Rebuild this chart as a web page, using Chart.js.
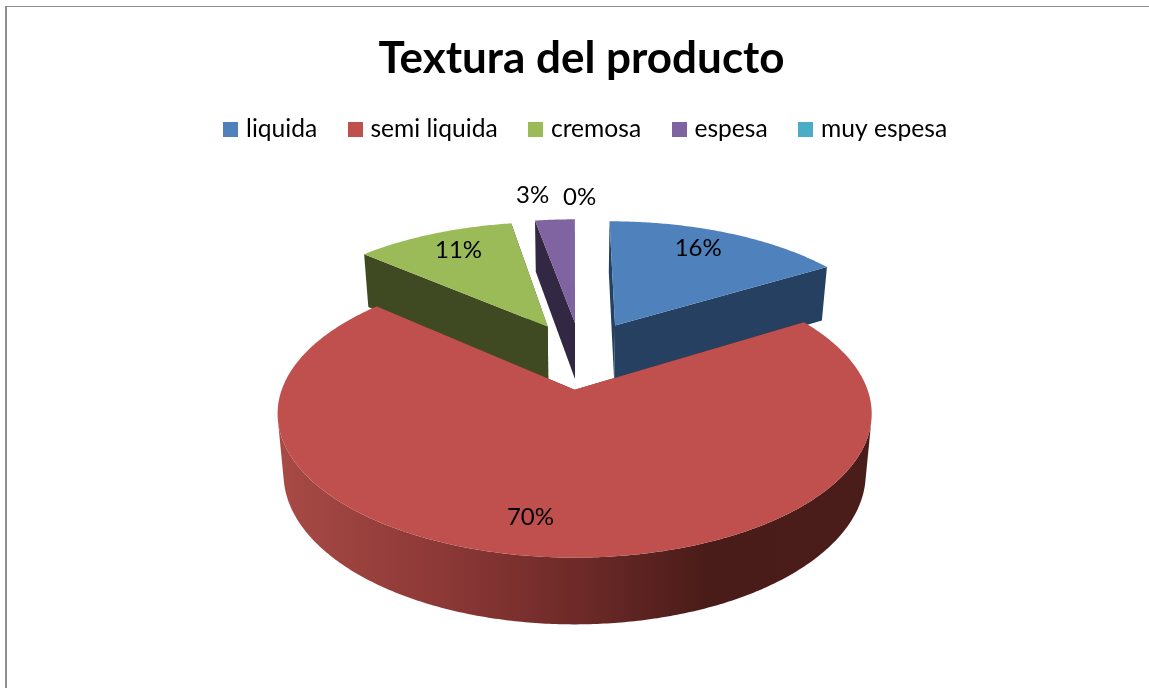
<!DOCTYPE html>
<html>
<head>
<meta charset="utf-8">
<style>
html,body{margin:0;padding:0;background:#fff;overflow:hidden}
#wrap{position:absolute;left:0;top:0;width:1149px;height:688px}
#frame{position:absolute;left:5px;top:6px;right:0;bottom:0;border-left:2px solid #8f8f8f;border-top:1px solid #8f8f8f;pointer-events:none}
</style>
<script src="https://cdn.jsdelivr.net/npm/chart.js@4/dist/chart.umd.min.js"></script>
</head>
<body>
<div id="wrap"><canvas id="c" width="1149" height="688"></canvas><div id="frame"></div></div>
<script>
const chartTitle = 'Textura del producto';
const categories = ['liquida', 'semi liquida', 'cremosa', 'espesa', 'muy espesa'];
const percentages = [16.2, 70.3, 10.8, 2.7, 0];
const explodePercent = [26, 27, 25, 25, 25];
const colors = ['#4f81bd', '#c0504d', '#9bbb59', '#8064a2', '#4bacc6'];
const wallColors = ['#254061', '#c0504d', '#3f4a22', '#332843', '#205867'];

const FONT = 'Lato, Carlito, Calibri, sans-serif';
// Camera for the tilted pie: a unit disc on the ground plane projected in perspective.
const VIEW = {cx: 574, cy: 390, R: 293, d: 6, K: 140, ox: 0.025, oy: -0.271};
function project(X, Y) {
  const s = VIEW.d / (VIEW.d - Y);
  return {x: VIEW.cx + X * s * VIEW.R, y: VIEW.cy + VIEW.K * Y * s, s};
}
function lower(p) {
  return {x: VIEW.cx + (p.x - VIEW.cx) * 0.98, y: p.y + 20 + 39 * p.s};
}
function addPoly(ctx, pts) {
  pts.forEach((p, i) => i ? ctx.lineTo(p.x, p.y) : ctx.moveTo(p.x, p.y));
  ctx.closePath();
}
function trace(ctx, pts) {
  ctx.beginPath();
  addPoly(ctx, pts);
}
function area(pts) {
  let s = 0;
  pts.forEach((p, i) => {
    const q = pts[(i + 1) % pts.length];
    s += p.x * q.y - q.x * p.y;
  });
  return s;
}
function wedge(arc, rim) {
  const mid = (arc.startAngle + arc.endAngle) / 2;
  const m = arc.options.offset / 100;
  const ax = VIEW.ox + Math.cos(mid) * m, ay = VIEW.oy + Math.sin(mid) * m;
  const rimPts = [];
  const n = Math.max(2, Math.ceil((arc.endAngle - arc.startAngle) / 0.01));
  for (let i = 0; i <= n; i++) {
    const t = arc.startAngle + (arc.endAngle - arc.startAngle) * i / n;
    rimPts.push(project(ax + rim * Math.cos(t), ay + rim * Math.sin(t)));
  }
  return {ax, ay, mid, apex: project(ax, ay), rimPts};
}
const pie3d = {
  id: 'pie3d',
  afterLayout(chart) {
    chart.legend.left += 6;
    chart.legend.right += 6;
    chart.legend.top -= 3;
    chart.legend.bottom -= 3;
  },
  beforeDatasetDraw(chart, args) {
    const ctx = chart.ctx;
    const arcs = chart.getDatasetMeta(args.index).data;
    const order = [3, 2, 0, 1];
    ctx.save();
    order.forEach(i => {
      const arc = arcs[i];
      if (arc.endAngle - arc.startAngle <= 0) return;
      const big = percentages[i] > 50;
      const w = wedge(arc, big ? 1 : 1.01);
      const top = [w.apex, ...w.rimPts];
      let wall = wallColors[i];
      if (big) {
        const g = ctx.createLinearGradient(280, 0, 872, 0);
        g.addColorStop(0, '#a84a45');
        g.addColorStop(0.28, '#8b3836');
        g.addColorStop(0.50, '#6e2a28');
        g.addColorStop(0.72, '#4a1c19');
        g.addColorStop(1, '#4a1d1a');
        wall = g;
      }
      ctx.fillStyle = wall;
      // radial walls
      [w.rimPts[0], w.rimPts[w.rimPts.length - 1]].forEach(p => {
        trace(ctx, [w.apex, p, lower(p), lower(w.apex)]);
        ctx.fill();
      });
      // outer rim: the camera-facing facets, filled together as one seamless path
      ctx.beginPath();
      for (let k = 0; k + 1 < w.rimPts.length; k++) {
        const a = w.rimPts[k], b = w.rimPts[k + 1];
        const quad = [a, b, lower(b), lower(a)];
        if (area(quad) < 0) addPoly(ctx, quad);
      }
      ctx.fill();
      // top face
      trace(ctx, top);
      ctx.fillStyle = arc.options.backgroundColor;
      ctx.fill();
    });
    // value labels
    ctx.fillStyle = '#000';
    ctx.font = '24px ' + FONT;
    ctx.textAlign = 'center';
    ctx.textBaseline = 'middle';
    const labelTurn = [-0.045, 0.08, 0.02, -0.06, 0];
    const labelRadius = [0.8, 0.8, 0.8, 1.3, 1.27];
    percentages.forEach((v, i) => {
      const w = wedge(arcs[i], 1);
      const t = w.mid + labelTurn[i];
      const p = project(w.ax + labelRadius[i] * Math.cos(t), w.ay + labelRadius[i] * Math.sin(t));
      ctx.fillText(Math.round(v) + '%', p.x, p.y);
    });
    ctx.restore();
    return false;
  }
};
// Square legend swatches drawn wider than their reserved box, so the text sits close to them.
const swatches = colors.map(col => {
  const cv = document.createElement('canvas');
  cv.width = 15; cv.height = 15;
  const g = cv.getContext('2d');
  g.fillStyle = col;
  g.fillRect(0, 0, 15, 15);
  return cv;
});
new Chart(document.getElementById('c'), {
  type: 'pie',
  data: {
    labels: categories,
    datasets: [{
      data: percentages,
      backgroundColor: colors,
      borderWidth: 0,
      offset: explodePercent
    }]
  },
  plugins: [pie3d],
  options: {
    responsive: false,
    animation: false,
    layout: {padding: {left: 14, top: 0}},
    plugins: {
      tooltip: {enabled: false},
      title: {
        display: true,
        text: chartTitle,
        color: '#000',
        font: {family: FONT, size: 44, weight: 'bold'},
        padding: {top: 32, bottom: 0}
      },
      legend: {
        position: 'top',
        labels: {
          color: '#000',
          usePointStyle: true,
          pointStyleWidth: 6,
          boxHeight: 15,
          padding: 35,
          font: {family: FONT, size: 24.6},
          generateLabels(chart) {
            return Chart.overrides.pie.plugins.legend.labels.generateLabels(chart)
              .map((item, i) => ({...item, pointStyle: swatches[i]}));
          }
        }
      }
    }
  }
});
</script>
</body>
</html>
